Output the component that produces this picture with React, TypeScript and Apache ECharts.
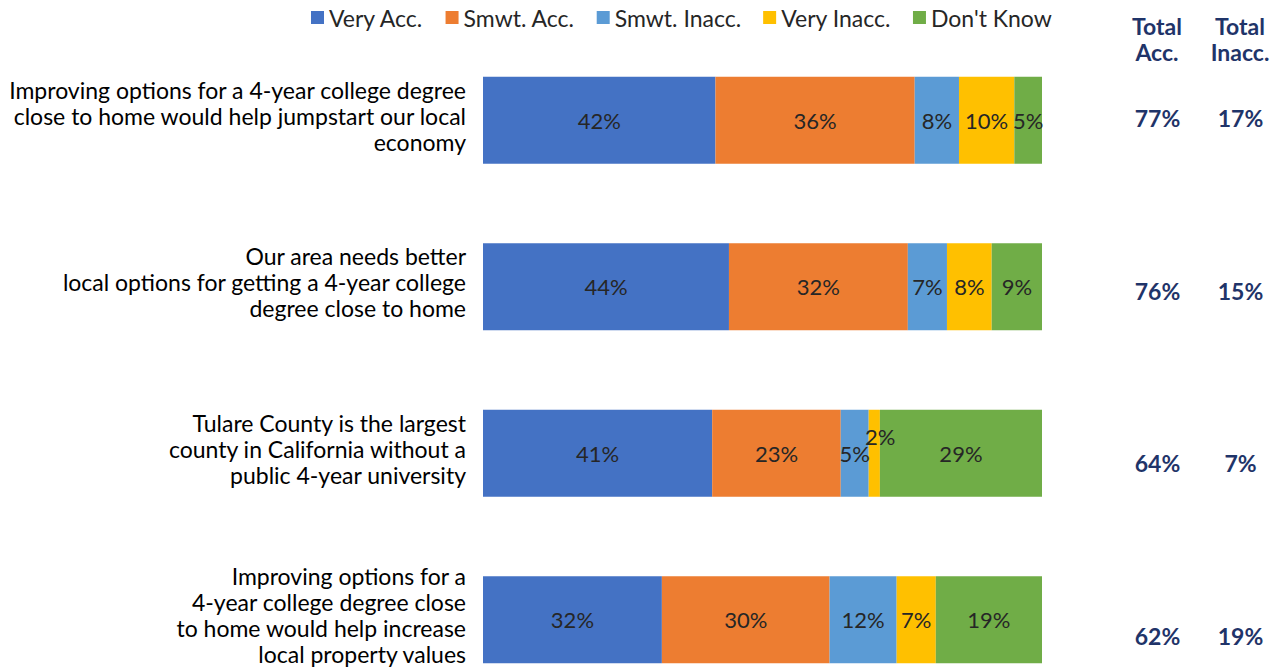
import React, { useEffect, useRef } from "react";
import * as echarts from "echarts";

const categories = [
  "Improving options for a 4-year college degree\nclose to home would help jumpstart our local\neconomy",
  "Our area needs better\nlocal options for getting a 4-year college\ndegree close to home",
  "Tulare County is the largest\ncounty in California without a\npublic 4-year university",
  "Improving options for a\n4-year college degree close\nto home would help increase\nlocal property values",
];
const seriesNames = ["Very Acc.", "Smwt. Acc.", "Smwt. Inacc.", "Very Inacc.", "Don't Know"];
const veryAcc = [42, 44, 41, 32];
const smwtAcc = [36, 32, 23, 30];
const smwtInacc = [8, 7, 5, 12];
const veryInacc = [10, 8, 2, 7];
const dontKnow = [5, 9, 29, 19];
const totalAcc = [77, 76, 64, 62];
const totalInacc = [17, 15, 7, 19];
const headerLines = [["Total", "Acc."], ["Total", "Inacc."]];
const colors = ["#4472C4", "#ED7D31", "#5B9BD5", "#FFC000", "#70AD47"];

const FONT = "Lato";
const NAVY = "#1F3469";

export default function App() {
  const ref = useRef<HTMLDivElement>(null);
  useEffect(() => {
    if (!ref.current) return;
    const chart = echarts.init(ref.current, undefined, { renderer: "svg" });
    const all = [veryAcc, smwtAcc, smwtInacc, veryInacc, dontKnow];
    const sums = categories.map((_, i) => all.reduce((s, arr) => s + arr[i], 0));
    const series: any[] = all.map((arr, si) => ({
      name: seriesNames[si],
      type: "bar",
      stack: "total",
      xAxisIndex: 0,
      yAxisIndex: 0,
      barWidth: 87,
      itemStyle: { color: colors[si] },
      label: {
        show: true,
        position: "inside",
        fontFamily: FONT,
        fontSize: 22,
        color: "#262626",
        formatter: (p: any) => arr[p.dataIndex] + "%",
      },
      data: arr.map((v, i) => {
        const d: any = { value: (v / sums[i]) * 100 };
        if (v <= 2) {
          d.label = { offset: [6, -17] };
        }
        return d;
      }),
    }));
    series.push({ type: "bar", xAxisIndex: 1, yAxisIndex: 1, data: [], silent: true });
    series.push({ type: "bar", xAxisIndex: 2, yAxisIndex: 2, data: [], silent: true });
    const headerX = [1157, 1240];
    const graphic: any[] = [];
    headerLines.forEach((lines, hi) => {
      lines.forEach((t, li) => {
        graphic.push({
          type: "text",
          x: headerX[hi],
          y: 26 + li * 26,
          style: {
            text: t,
            fontFamily: FONT,
            fontSize: 23,
            fontWeight: "bold",
            fill: NAVY,
            align: "center",
            verticalAlign: "middle",
          },
        });
      });
    });
    chart.setOption({
      animation: false,
      textStyle: { fontFamily: FONT },
      legend: {
        data: seriesNames,
        left: 306,
        top: 1,
        icon: "rect",
        itemWidth: 13,
        itemHeight: 13,
        itemGap: 22,
        textStyle: { fontFamily: FONT, fontSize: 23, color: "#262626" },
      },
      grid: [
        { left: 483, right: 244, top: 37, height: 666 },
        { left: 1282, right: 2, top: 32, height: 690 },
        { left: 483, right: 244, top: 32.5, height: 666 },
      ],
      xAxis: [
        { type: "value", min: 0, max: 100, show: false, gridIndex: 0 },
        { type: "value", show: false, gridIndex: 1 },
        { type: "value", show: false, gridIndex: 2 },
      ],
      yAxis: [
        {
          type: "category",
          gridIndex: 0,
          inverse: true,
          data: categories,
          axisLine: { show: false },
          axisTick: { show: false },
          axisLabel: { show: false },
        },
        {
          type: "category",
          gridIndex: 1,
          inverse: true,
          data: totalAcc.map((v, i) => `{a|${v}%}{b|${totalInacc[i]}%}`),
          axisLine: { show: false },
          axisTick: { show: false },
          axisLabel: {
            margin: 0,
            rich: {
              a: { width: 83, align: "center", fontFamily: FONT, fontSize: 23, fontWeight: "bold", color: NAVY },
              b: { width: 83, align: "center", fontFamily: FONT, fontSize: 23, fontWeight: "bold", color: NAVY },
            },
          },
        },
        {
          type: "category",
          gridIndex: 2,
          inverse: true,
          data: categories,
          axisLine: { show: false },
          axisTick: { show: false },
          axisLabel: {
            margin: 17,
            fontFamily: FONT,
            fontSize: 23,
            lineHeight: 26,
            color: "#000000",
            align: "right",
          },
        },
      ],
      graphic,
      series,
    });
    return () => chart.dispose();
  }, []);
  return (
    <div style={{ position: "fixed", left: 0, top: 0, width: 1286, height: 669, overflow: "hidden", background: "#fff" }}>
      <div ref={ref} style={{ width: 1286, height: 760 }} />
    </div>
  );
}
